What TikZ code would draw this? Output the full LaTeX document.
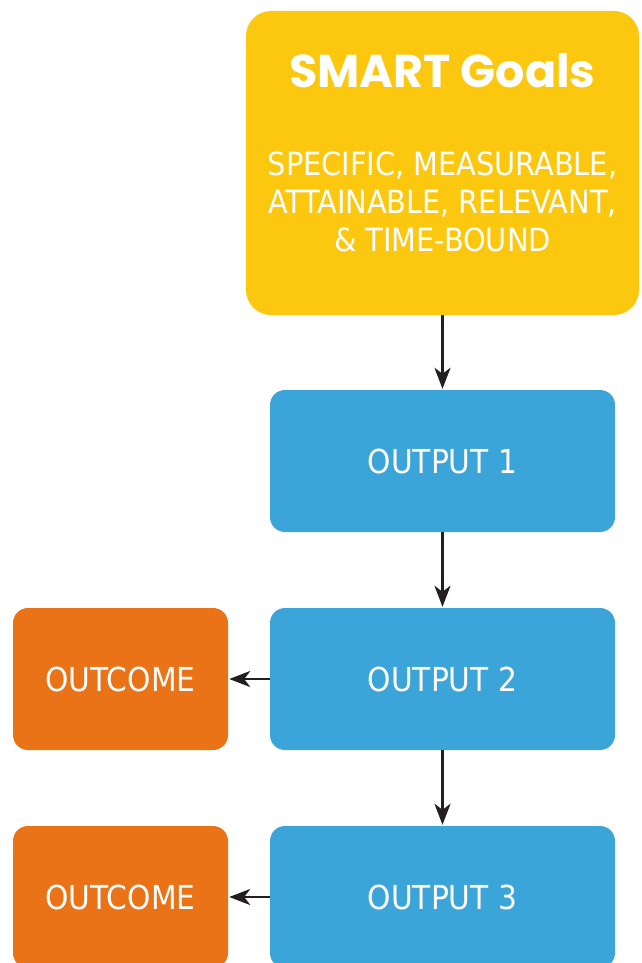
\documentclass[tikz,border=0pt]{standalone}
\usepackage{fontspec}
\setmainfont{DejaVu Sans Condensed}
\newfontfamily\titlefont{Poppins}
\usetikzlibrary{arrows.meta}
\definecolor{goalyellow}{HTML}{FCC70F}
\definecolor{outblue}{HTML}{3BA4D9}
\definecolor{outorange}{HTML}{EA7318}
\definecolor{arrowink}{HTML}{231F20}
\begin{document}
\begin{tikzpicture}[x=1pt,y=-1pt,
  box/.style={draw=none,rounded corners=15pt,inner sep=0pt,text=white,
    font=\fontsize{33}{38}\selectfont},
  outputbox/.style={box,fill=outblue,minimum width=345pt,minimum height=142pt},
  outcomebox/.style={box,fill=outorange,minimum width=215pt,minimum height=142pt},
  goalbox/.style={box,fill=goalyellow,rounded corners=25pt,minimum width=393pt,minimum height=304pt},
  flow/.style={draw=arrowink,line width=2.6pt,
    -{Stealth[length=21pt,width=16pt,inset=6pt]},shorten >=1pt}]
\useasboundingbox (0,0) rectangle (641,963);
\clip (0,0) rectangle (641,963);

% goal box with title and description
\node[goalbox] (goals) at (442.5,163) {};
\node[anchor=base,text=white,inner sep=0pt,
  font=\titlefont\bfseries\fontsize{46}{52}\selectfont] (title) at (442.5,88) {SMART Goals};
\node[anchor=base,text=white,inner sep=0pt,align=center,
  font=\fontsize{32}{38}\selectfont] (desc) at (442.5,251)
  {SPECIFIC, MEASURABLE,\\ATTAINABLE, RELEVANT,\\\&~TIME-BOUND};

% output chain
\node[outputbox] (out1) at (442.5,461) {OUTPUT 1};
\node[outputbox] (out2) at (442.5,679) {OUTPUT 2};
\node[outputbox] (out3) at (442.5,897) {OUTPUT 3};

% outcomes
\node[outcomebox] (oc1) at (120.5,679) {OUTCOME};
\node[outcomebox] (oc2) at (120.5,897) {OUTCOME};

% connectors
\draw[flow] (goals.south) -- (out1.north);
\draw[flow] (out1.south) -- (out2.north);
\draw[flow] (out2.south) -- (out3.north);
\draw[flow] (out2.west) -- (oc1.east);
\draw[flow] (out3.west) -- (oc2.east);
\end{tikzpicture}
\end{document}
